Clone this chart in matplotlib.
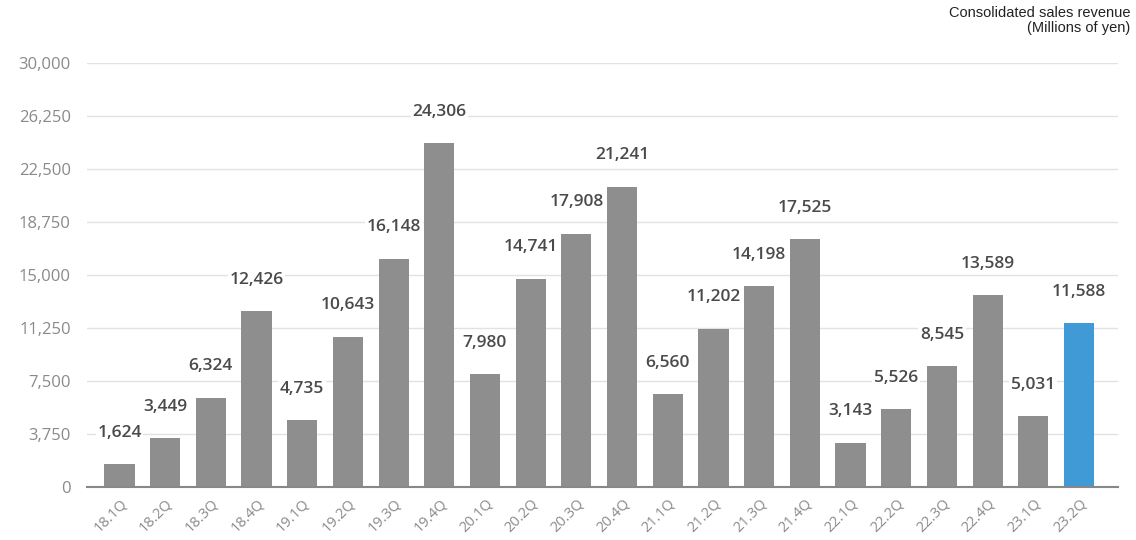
import matplotlib.pyplot as plt
from matplotlib.ticker import FuncFormatter

quarters = ['18.1Q', '18.2Q', '18.3Q', '18.4Q', '19.1Q', '19.2Q', '19.3Q', '19.4Q',
            '20.1Q', '20.2Q', '20.3Q', '20.4Q', '21.1Q', '21.2Q', '21.3Q', '21.4Q',
            '22.1Q', '22.2Q', '22.3Q', '22.4Q', '23.1Q', '23.2Q']
revenue = [1624, 3449, 6324, 12426, 4735, 10643, 16148, 24306,
           7980, 14741, 17908, 21241, 6560, 11202, 14198, 17525,
           3143, 5526, 8545, 13589, 5031, 11588]
y_ticks = [0, 3750, 7500, 11250, 15000, 18750, 22500, 26250, 30000]

plt.rcParams['font.family'] = ['Open Sans', 'DejaVu Sans']

fig = plt.figure(figsize=(11.36, 5.4), dpi=100)
ax = fig.add_axes([0.077, 0.098, 0.907, 0.786])

colors = ['#8e8e8e'] * (len(revenue) - 1) + ['#3f9ad6']
x = list(range(len(revenue)))
ax.bar(x, revenue, width=0.66, color=colors, zorder=2)

# value labels, raised well above each bar
for xi, v in zip(x, revenue):
    ax.annotate(f'{v:,}', (xi, v), xytext=(0, 22.5), textcoords='offset points',
                ha='center', va='center', fontsize=12.5, color='#4a4a4a',
                fontweight='semibold', zorder=3,
                bbox=dict(boxstyle='square,pad=0.1', fc='white', ec='none'))

ax.set_xlim(-0.7, len(revenue) - 0.15)
ax.set_ylim(0, 30000)
ax.set_yticks(y_ticks)
ax.yaxis.set_major_formatter(FuncFormatter(lambda v, p: f'{int(v):,}'))
ax.set_xticks(x)
ax.set_xticklabels(quarters, rotation=45, ha='right', rotation_mode='anchor')
ax.tick_params(axis='both', length=0, colors='#8a8a8a')
ax.tick_params(axis='y', pad=12, labelsize=12)
ax.tick_params(axis='x', pad=6, labelsize=10.5)

ax.grid(axis='y', color='#e2e2e2', linewidth=1, zorder=0)
for s in ['top', 'right', 'left']:
    ax.spines[s].set_visible(False)
ax.spines['bottom'].set_color('#888888')
ax.spines['bottom'].set_linewidth(1.5)

fig.text(0.995, 0.988, 'Consolidated sales revenue\n(Millions of yen)',
         ha='right', va='top', fontsize=10.5, color='#222222', linespacing=1.05,
         family=['Liberation Sans', 'DejaVu Sans'])

plt.savefig('out.png', dpi=100)
